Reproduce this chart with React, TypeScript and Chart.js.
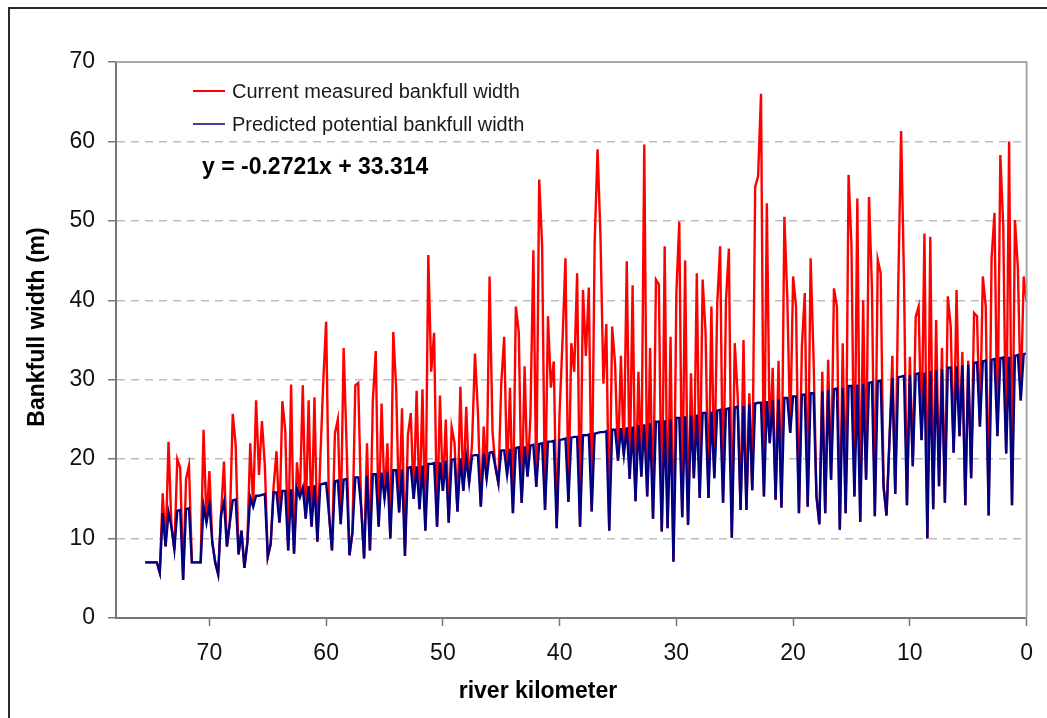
import React, { useEffect, useRef } from "react";
import { Chart, registerables } from "chart.js";

Chart.register(...registerables);

// River kilometre grid: first sample at 75.75 km, one sample every 0.25 km down to 0 km
const KM_START = 75.75;
const KM_STEP = 0.25;

// Current measured bankfull width (m), four samples per kilometre
const measuredWidth: (number | null)[] = [
  null, 7, 7, 7, // 75
  7, 7, 5.7, 15.7, // 74
  9.0, 22.2, 11.5, 8.6, // 73
  20.0, 18.9, 4.8, 17.5, // 72
  19.2, 7, 7, 7, // 71
  7, 23.7, 12.0, 18.5, // 70
  9.5, 7.0, 5.5, 13.0, // 69
  19.7, 9.0, 12.0, 25.7, // 68
  21.8, 8.0, 11.0, 6.3, // 67
  9.5, 22.0, 14.0, 27.4, // 66
  18.0, 24.8, 19.2, 7.7, // 65
  9.3, 16.5, 21.0, 12.0, // 64
  27.3, 23.6, 8.5, 29.4, // 63
  8.1, 19.6, 15.2, 29.3, // 62
  12.5, 27.4, 11.5, 27.8, // 61
  9.6, 20.0, 29.6, 37.3, // 60
  13.0, 8.5, 23.2, 25.0, // 59
  11.8, 34.0, 21.8, 7.9, // 58
  10.7, 29.3, 29.6, 14.0, // 57
  7.5, 22.0, 8.5, 27.4, // 56
  33.6, 11.5, 27.0, 15.0, // 55
  22.0, 10.0, 36.0, 28.9, // 54
  13.3, 26.4, 7.8, 23.0, // 53
  25.8, 15.0, 28.6, 13.7, // 52
  28.8, 11.0, 45.7, 31.0, // 51
  35.9, 11.5, 28.0, 16.0, // 50
  25.0, 12.0, 24.0, 22.0, // 49
  13.4, 29.1, 16.0, 26.6, // 48
  17.0, 22.0, 33.3, 26.0, // 47
  14.0, 24.1, 17.5, 43.0, // 46
  23.5, 19.0, 17.0, 29.5, // 45
  35.4, 18.0, 29.0, 13.2, // 44
  39.2, 36.0, 14.5, 31.7, // 43
  17.8, 25.5, 46.3, 16.5, // 42
  55.2, 46.9, 13.6, 38.0, // 41
  29.0, 32.3, 11.3, 26.0, // 40
  35.0, 45.3, 14.6, 34.6, // 39
  31.0, 43.4, 11.5, 41.3, // 38
  33.0, 41.6, 13.4, 47.2, // 37
  59.0, 48.0, 29.5, 37.0, // 36
  11.0, 36.7, 32.0, 19.8, // 35
  33.0, 20.5, 44.9, 17.5, // 34
  41.9, 14.7, 31.0, 17.8, // 33
  59.6, 15.3, 34.0, 12.5, // 32
  42.6, 42.0, 10.9, 46.8, // 31
  11.3, 35.4, 7.1, 41.0, // 30
  49.9, 12.7, 45.0, 11.7, // 29
  30.8, 17.6, 43.4, 15.1, // 28
  42.6, 36.0, 15.1, 39.2, // 27
  17.6, 39.6, 46.8, 14.5, // 26
  40.0, 46.5, 10.1, 34.6, // 25
  28.0, 13.6, 35.0, 13.6, // 24
  28.3, 16.1, 54.3, 55.6, // 23
  66.0, 15.3, 52.2, 22.0, // 22
  31.5, 14.9, 32.4, 13.9, // 21
  50.5, 40.4, 23.3, 43.0, // 20
  39.2, 13.2, 34.2, 40.9, // 19
  14.0, 45.3, 32.9, 15.3, // 18
  11.8, 31.0, 13.2, 32.5, // 17
  17.4, 41.5, 39.2, 11.1, // 16
  34.6, 13.2, 55.8, 46.8, // 15
  15.3, 52.8, 12.1, 40.0, // 14
  17.4, 53.0, 41.7, 12.8, // 13
  45.1, 43.4, 16.5, 12.9, // 12
  22.3, 33.0, 15.6, 41.3, // 11
  61.3, 42.5, 14.2, 32.9, // 10
  19.1, 37.9, 39.2, 22.4, // 9
  48.4, 10.0, 48.0, 13.7, // 8
  37.5, 16.6, 34.0, 14.5, // 7
  40.5, 36.7, 20.8, 41.3, // 6
  22.9, 33.5, 14.2, 32.4, // 5
  17.6, 38.4, 38.0, 24.1, // 4
  43.0, 39.2, 12.9, 45.3, // 3
  51.0, 22.9, 58.3, 49.3, // 2
  20.7, 60.0, 14.2, 50.1, // 1
  44.2, 27.4, 43.0, 39.8, // 0
];

// Predicted potential bankfull width (m), same kilometre grid
const predictedWidth: (number | null)[] = [
  null, 7, 7, 7, // 75
  7, 7, 5.7, 13.2, // 74
  9.0, 13.3, 11.5, 8.6, // 73
  13.5, 13.6, 4.8, 13.7, // 72
  13.8, 7, 7, 7, // 71
  7, 14.1, 12.0, 14.3, // 70
  9.5, 7.0, 5.5, 13.0, // 69
  14.6, 9.0, 12.0, 14.8, // 68
  14.9, 8.0, 11.0, 6.3, // 67
  9.5, 15.2, 14.0, 15.4, // 66
  15.4, 15.5, 15.6, 7.7, // 65
  9.3, 15.8, 15.8, 12.0, // 64
  16.0, 16.0, 8.5, 16.2, // 63
  8.1, 16.3, 15.2, 16.4, // 62
  12.5, 16.6, 11.5, 16.7, // 61
  9.6, 16.8, 16.9, 17.0, // 60
  13.0, 8.5, 17.2, 17.3, // 59
  11.8, 17.4, 17.5, 7.9, // 58
  10.7, 17.7, 17.7, 14.0, // 57
  7.5, 17.9, 8.5, 18.1, // 56
  18.1, 11.5, 18.3, 15.0, // 55
  18.4, 10.0, 18.6, 18.6, // 54
  13.3, 18.7, 7.8, 18.9, // 53
  19.0, 15.0, 19.1, 13.7, // 52
  19.2, 11.0, 19.4, 19.4, // 51
  19.5, 11.5, 19.6, 16.0, // 50
  19.8, 12.0, 19.9, 20.0, // 49
  13.4, 20.1, 16.0, 20.2, // 48
  17.0, 20.4, 20.5, 20.5, // 47
  14.0, 20.7, 17.5, 20.8, // 46
  20.9, 19.0, 17.0, 21.1, // 45
  21.1, 18.0, 21.3, 13.2, // 44
  21.4, 21.5, 14.5, 21.6, // 43
  17.8, 21.7, 21.8, 16.5, // 42
  21.9, 22.0, 13.6, 22.2, // 41
  22.2, 22.3, 11.3, 22.4, // 40
  22.5, 22.6, 14.6, 22.7, // 39
  22.8, 22.8, 11.5, 23.0, // 38
  23.0, 23.1, 13.4, 23.2, // 37
  23.3, 23.4, 23.4, 23.5, // 36
  11.0, 23.7, 23.7, 19.8, // 35
  23.9, 20.5, 24.0, 17.5, // 34
  24.1, 14.7, 24.3, 17.8, // 33
  24.4, 15.3, 24.5, 12.5, // 32
  24.7, 24.7, 10.9, 24.9, // 31
  11.3, 25.0, 7.1, 25.2, // 30
  25.2, 12.7, 25.4, 11.7, // 29
  25.5, 17.6, 25.6, 15.1, // 28
  25.8, 25.8, 15.1, 26.0, // 27
  17.6, 26.1, 26.2, 14.5, // 26
  26.3, 26.4, 10.1, 26.5, // 25
  26.6, 13.6, 26.7, 13.6, // 24
  26.9, 16.1, 27.0, 27.1, // 23
  27.1, 15.3, 27.3, 22.0, // 22
  27.4, 14.9, 27.5, 13.9, // 21
  27.7, 27.7, 23.3, 27.9, // 20
  27.9, 13.2, 28.1, 28.1, // 19
  14.0, 28.3, 28.3, 15.3, // 18
  11.8, 28.5, 13.2, 28.7, // 17
  17.4, 28.8, 28.9, 11.1, // 16
  29.0, 13.2, 29.2, 29.2, // 15
  15.3, 29.4, 12.1, 29.5, // 14
  17.4, 29.6, 29.7, 12.8, // 13
  29.8, 29.9, 16.5, 12.9, // 12
  22.3, 30.2, 15.6, 30.3, // 11
  30.4, 30.5, 14.2, 30.6, // 10
  19.1, 30.7, 30.8, 22.4, // 9
  30.9, 10.0, 31.1, 13.7, // 8
  31.2, 16.6, 31.3, 14.5, // 7
  31.5, 31.5, 20.8, 31.7, // 6
  22.9, 31.8, 14.2, 31.9, // 5
  17.6, 32.1, 32.2, 24.1, // 4
  32.3, 32.4, 12.9, 32.5, // 3
  32.6, 22.9, 32.7, 32.8, // 2
  20.7, 32.9, 14.2, 33.0, // 1
  33.1, 27.4, 33.2, 33.3, // 0
];

const xTickValues = [70, 60, 50, 40, 30, 20, 10, 0];
const yTickValues = [0, 10, 20, 30, 40, 50, 60, 70];
const X_MIN = 0;
const X_MAX = 78;
const seriesNames = ["Current measured bankfull width", "Predicted potential bankfull width"];
const seriesColors = ["#ff0000", "#000080"];
const equationText = "y = -0.2721x + 33.314";
const xTitle = "river kilometer";
const yTitle = "Bankfull width (m)";

const FONT = "'Liberation Sans', Arial, Helvetica, sans-serif";

const decorPlugin = {
  id: "decor",
  afterDraw(chart: any) {
    const { ctx, chartArea: a } = chart;
    ctx.save();
    // plot frame (top & right)
    ctx.strokeStyle = "#a8a8a8";
    ctx.lineWidth = 2;
    ctx.beginPath();
    ctx.moveTo(a.left, a.top);
    ctx.lineTo(a.right, a.top);
    ctx.lineTo(a.right, a.bottom);
    ctx.stroke();
    // outer frame
    ctx.fillStyle = "#2a2a2a";
    ctx.fillRect(8, 7, 2, 720);
    ctx.fillRect(8, 7, 1050, 2);
    // legend
    const rows = [91, 124];
    seriesNames.forEach((name, i) => {
      ctx.strokeStyle = seriesColors[i];
      ctx.lineWidth = 2;
      ctx.globalAlpha = i === 1 ? 0.75 : 1;
      ctx.beginPath();
      ctx.moveTo(193, rows[i]);
      ctx.lineTo(225, rows[i]);
      ctx.stroke();
      ctx.globalAlpha = 1;
      ctx.fillStyle = "#1a1a1a";
      ctx.font = `20px ${FONT}`;
      ctx.textAlign = "left";
      ctx.textBaseline = "middle";
      ctx.fillText(name, 232, rows[i] + 1);
    });
    // trend equation
    ctx.fillStyle = "#000";
    ctx.font = `bold 23px ${FONT}`;
    ctx.textBaseline = "middle";
    ctx.fillText(equationText, 202, 168);
    // axis titles
    ctx.font = `bold 23px ${FONT}`;
    ctx.textAlign = "center";
    ctx.fillText(xTitle, 538, 692);
    ctx.translate(38, 327);
    ctx.rotate(-Math.PI / 2);
    ctx.fillText(yTitle, 0, 0);
    ctx.restore();
  },
};

export default function App() {
  const ref = useRef<HTMLCanvasElement>(null);
  useEffect(() => {
    const canvas = ref.current;
    if (!canvas) return;
    const km = measuredWidth.map((_, i) => KM_START - i * KM_STEP);
    const tickFont = { family: FONT, size: 23 };
    const chart = new Chart(canvas, {
      type: "line",
      data: {
        datasets: [
          {
            label: seriesNames[0],
            data: km.map((x, i) => ({ x, y: measuredWidth[i] })) as any,
            borderColor: seriesColors[0],
            borderWidth: 2.4,
            pointRadius: 0,
            tension: 0,
            order: 1,
          },
          {
            label: seriesNames[1],
            data: km.map((x, i) => ({ x, y: predictedWidth[i] })) as any,
            borderColor: seriesColors[1],
            borderWidth: 2.4,
            pointRadius: 0,
            tension: 0,
            order: 0,
          },
        ],
      },
      options: {
        responsive: false,
        animation: false,
        events: [],
        layout: { padding: { left: 0, top: 62, right: 20, bottom: 0 } },
        plugins: {
          legend: { display: false },
          tooltip: { enabled: false },
        },
        scales: {
          x: {
            type: "linear",
            reverse: true,
            min: X_MIN,
            max: X_MAX,
            afterBuildTicks: (s: any) => {
              s.ticks = xTickValues.map((value) => ({ value }));
            },
            afterFit: (s: any) => {
              s.height = 100;
            },
            ticks: {
              font: tickFont,
              color: "#111",
              padding: 14,
              maxRotation: 0,
              autoSkip: false,
            },
            grid: {
              drawOnChartArea: false,
              drawTicks: true,
              tickLength: 8,
              tickColor: "#777",
              tickWidth: 1.5,
            },
            border: { display: true, color: "#777", width: 2 },
          },
          y: {
            type: "linear",
            min: 0,
            max: 70,
            afterBuildTicks: (s: any) => {
              s.ticks = yTickValues.map((value) => ({ value }));
            },
            afterFit: (s: any) => {
              s.width = 116;
            },
            ticks: {
              font: tickFont,
              color: "#111",
              padding: 13,
            },
            grid: {
              color: (c: any) =>
                c.tick && (c.tick.value === 0 || c.tick.value === 70) ? "rgba(0,0,0,0)" : "#bdbdbd",
              lineWidth: 1.5,
              drawTicks: true,
              tickLength: 8,
              tickColor: "#777",
              tickWidth: 1.5,
            },
            border: { display: true, color: "#777", width: 2, dash: [8, 6] },
          },
        },
      },
      plugins: [decorPlugin],
    } as any);
    return () => chart.destroy();
  }, []);

  return (
    <div style={{ position: "fixed", left: 0, top: 0, width: 1047, height: 718, background: "#fff" }}>
      <canvas ref={ref} width={1047} height={718} style={{ display: "block" }} />
    </div>
  );
}
